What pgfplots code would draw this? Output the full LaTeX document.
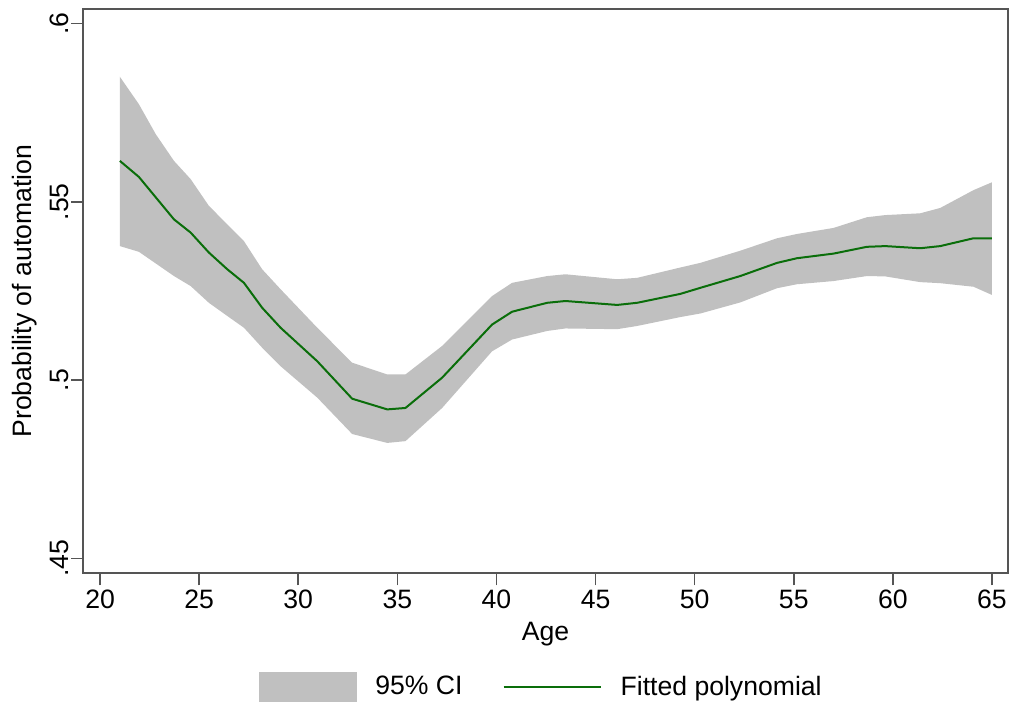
\documentclass[border=0pt]{standalone}
\usepackage{fontspec}
\setmainfont{Liberation Sans}
\usepackage{pgfplots}
\pgfplotsset{compat=1.18}
\usepgfplotslibrary{fillbetween}
\definecolor{band}{HTML}{C0C0C0}
\definecolor{fit}{HTML}{0A6E0A}
\definecolor{frame}{HTML}{555555}
\begin{document}
\begin{tikzpicture}[font=\fontsize{13.3pt}{16pt}\selectfont]
\begin{axis}[
  scale only axis,
  width=462.5pt, height=282.2pt,
  xmin=19.14, xmax=65.81,
  ymin=0.4458, ymax=0.6041,
  axis line style={frame, line width=1pt},
  every tick/.style={frame, line width=0.8pt},
  tick align=outside,
  major tick length=6pt,
  xtick={20,25,...,65},
  xtick pos=bottom, ytick pos=left,
  ytick={0.45,0.5,0.55,0.6},
  yticklabels={.45,.5,.55,.6},
  /pgf/number format/assume math mode=true,
  yticklabel style={rotate=90, anchor=south, inner sep=1pt},
  xticklabel style={inner sep=2pt},
  xlabel={Age},
  ylabel={Probability of automation},
  xlabel style={at={(axis description cs:0.5,-0.107)}, anchor=center},
  ylabel style={at={(axis description cs:-0.063,0.5)}, anchor=center, rotate=0},
  legend columns=2,
  legend style={draw=none, fill=none, at={(axis description cs:0.4968,-0.2012)}, anchor=center,
    /tikz/every even column/.append style={column sep=18pt},
    inner sep=0pt},
  clip=false,
]
\addplot[name path=upper, draw=none, forget plot] coordinates {
(21.00,0.5851) (21.96,0.5774) (22.81,0.5690) (23.73,0.5615) (24.57,0.5564)
(25.49,0.5489) (26.42,0.5437) (27.26,0.5390) (28.18,0.5311) (29.11,0.5255)
(30.96,0.5147) (32.72,0.5049) (34.49,0.5016) (35.41,0.5016) (37.26,0.5096)
(39.78,0.5236) (40.79,0.5273) (42.56,0.5292) (43.48,0.5297) (46.09,0.5283)
(47.10,0.5287) (49.28,0.5316) (50.29,0.5329) (52.30,0.5363) (54.16,0.5398)
(55.16,0.5410) (57.01,0.5427) (58.69,0.5457) (59.62,0.5463) (61.38,0.5468)
(62.39,0.5483) (64.07,0.5533) (65.00,0.5555)
};
\addplot[name path=lower, draw=none, forget plot] coordinates {
(21.00,0.5376) (21.96,0.5360) (23.73,0.5292) (24.57,0.5264) (25.49,0.5217)
(26.42,0.5180) (27.26,0.5147) (28.18,0.5091) (29.11,0.5039) (30.96,0.4951)
(32.72,0.4849) (34.49,0.4824) (35.41,0.4829) (37.26,0.4922) (39.78,0.5081)
(40.79,0.5114) (42.56,0.5138) (43.48,0.5145) (46.09,0.5143) (47.10,0.5152)
(49.28,0.5177) (50.29,0.5187) (52.30,0.5218) (54.16,0.5258) (55.16,0.5269)
(57.01,0.5278) (58.69,0.5292) (59.62,0.5291) (61.38,0.5275) (62.39,0.5272)
(64.07,0.5262) (65.00,0.5239)
};
\addplot[fill=band, draw=none,
  legend image code/.code={\fill[band] (0pt,-7.5pt) rectangle (49pt,7.5pt);
    \path[draw=none,fill=none] (0pt,0pt) -- (56pt,0pt);}]
  fill between[of=upper and lower];
\addlegendentry{95\% CI}
\addplot[fit, line width=1pt,
  legend image code/.code={\draw[fit, line width=1pt] (0pt,0pt) -- (48.5pt,0pt);
    \path[draw=none,fill=none] (0pt,0pt) -- (56.5pt,0pt);}]
coordinates {
(21.00,0.5615) (21.96,0.5570) (23.73,0.5451) (24.57,0.5414) (25.49,0.5358)
(26.42,0.5311) (27.26,0.5273) (28.18,0.5203) (29.11,0.5147) (30.96,0.5053)
(32.72,0.4948) (34.49,0.4918) (35.41,0.4922) (37.26,0.5007) (39.78,0.5156)
(40.79,0.5192) (42.56,0.5217) (43.48,0.5222) (46.09,0.5211) (47.10,0.5217)
(49.28,0.5242) (50.29,0.5259) (52.30,0.5292) (54.16,0.5329) (55.16,0.5342)
(57.01,0.5355) (58.69,0.5374) (59.62,0.5376) (61.38,0.5370) (62.39,0.5376)
(64.07,0.5398) (65.00,0.5398)
};
\addlegendentry{Fitted polynomial}
\end{axis}
\pgfresetboundingbox
\path ([xshift=-41.5pt,yshift=-65.3pt]current axis.south west) rectangle ([xshift=1pt,yshift=4.5pt]current axis.north east);
\end{tikzpicture}
\end{document}
